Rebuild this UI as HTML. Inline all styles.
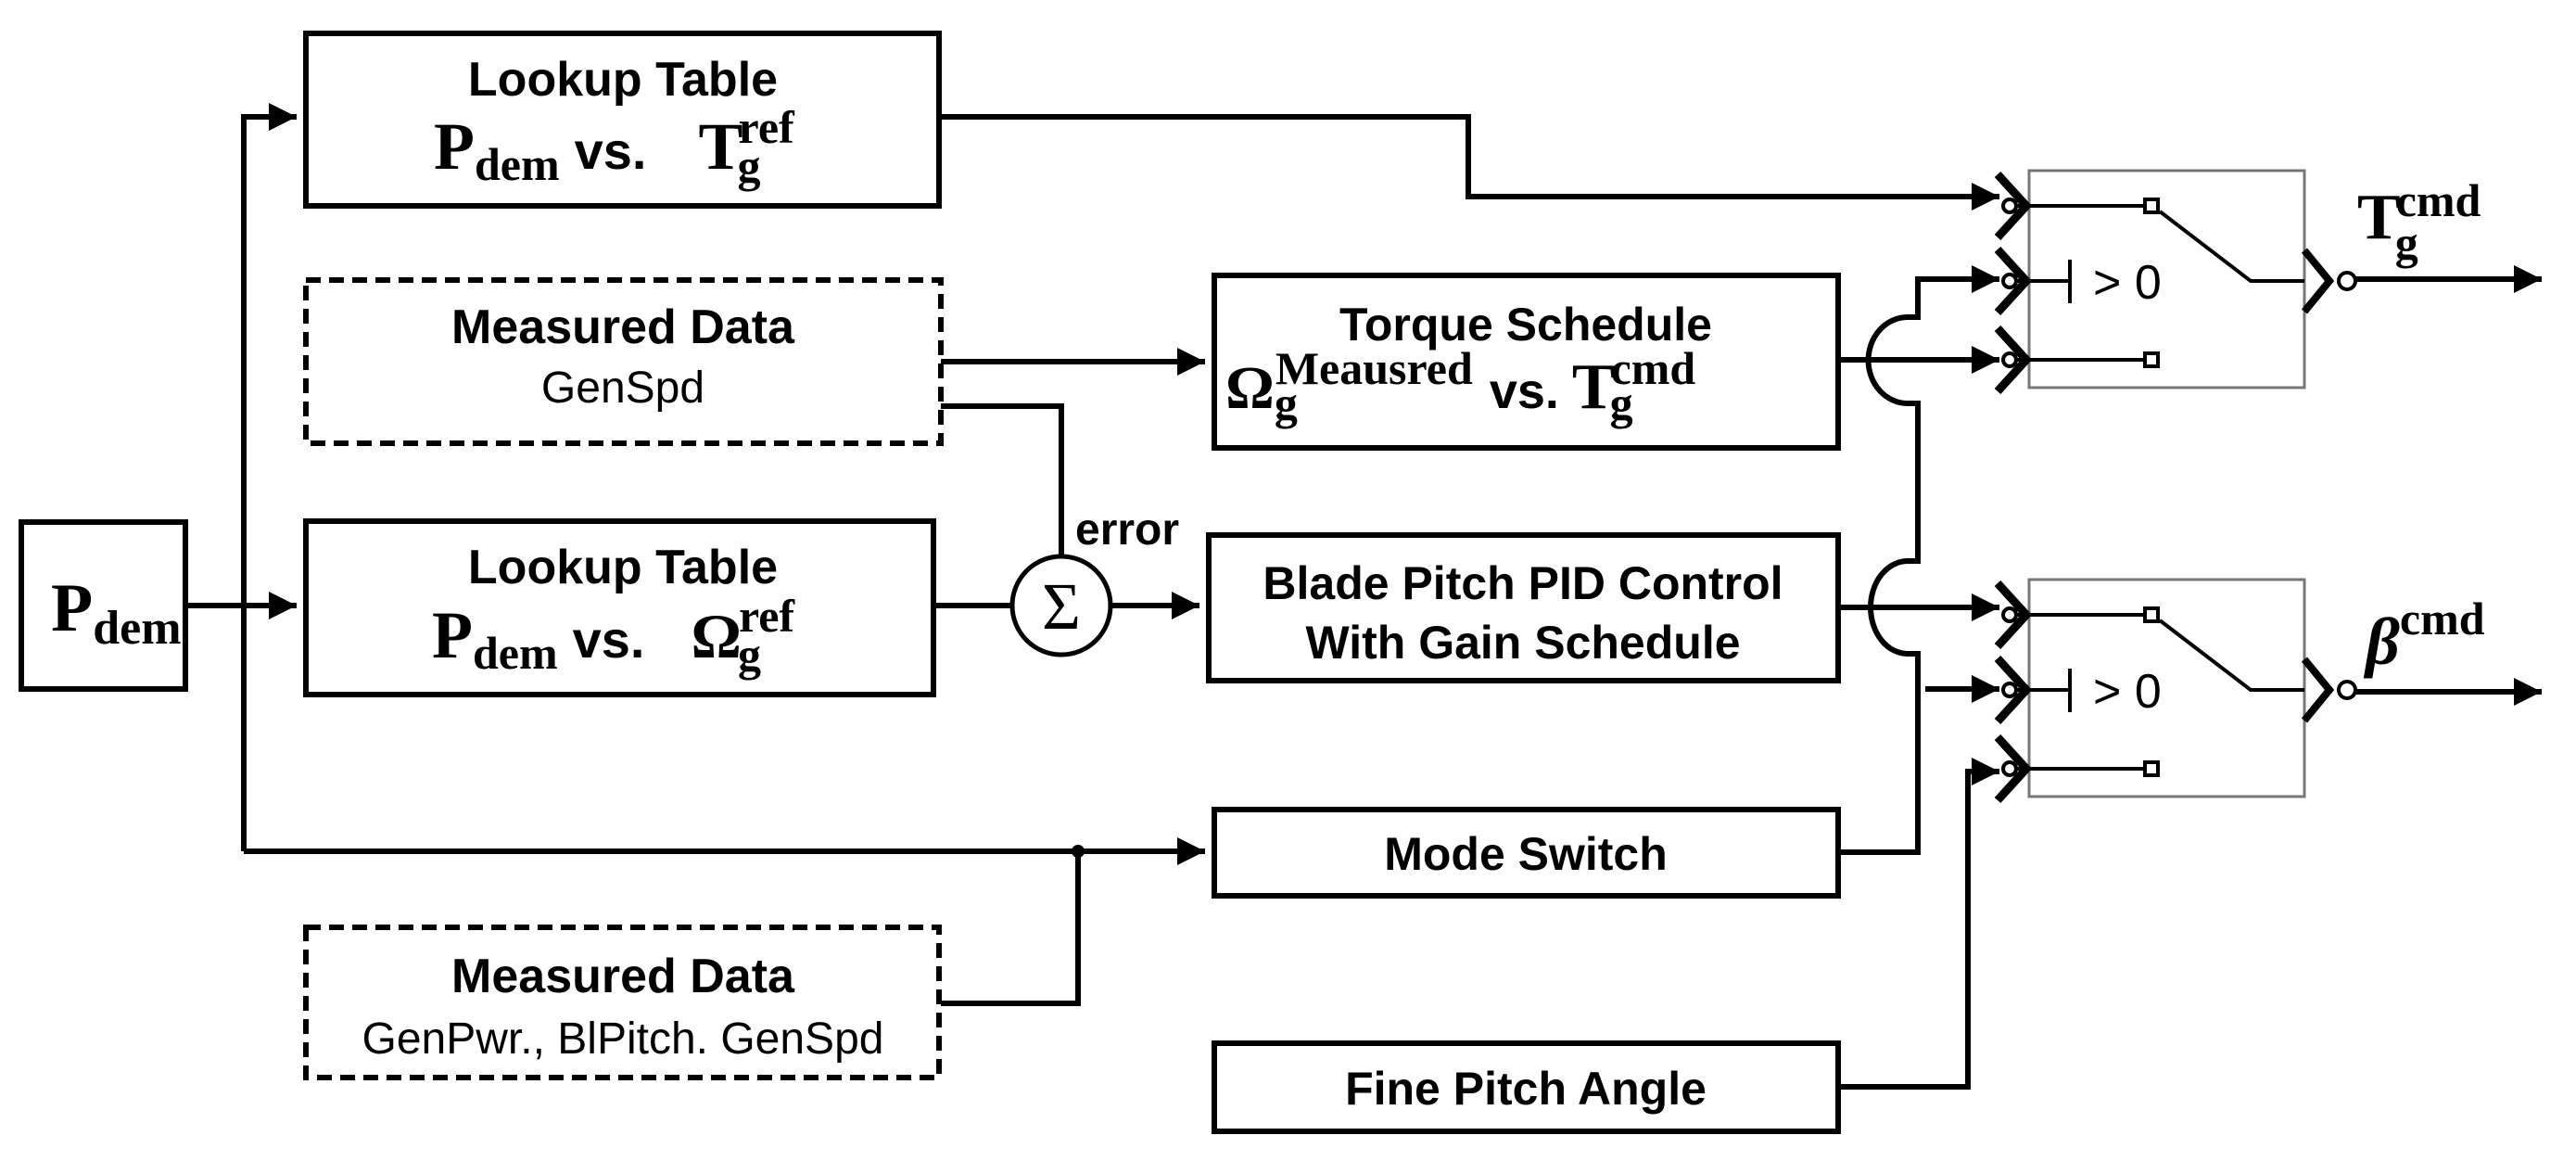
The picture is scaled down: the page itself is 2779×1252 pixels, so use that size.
<!DOCTYPE html>
<html><head><meta charset="utf-8"><style>
html,body{margin:0;padding:0;background:#fff;}
svg{display:block;}
.b{font-family:"Liberation Sans",sans-serif;font-weight:bold;fill:#000;}
.n{font-family:"Liberation Sans",sans-serif;fill:#000;}
.s{font-family:"Liberation Serif",serif;font-weight:bold;fill:#000;}
</style></head><body>
<svg width="2779" height="1252" viewBox="0 0 2779 1252" xmlns="http://www.w3.org/2000/svg">
<defs>
<marker id="a" viewBox="0 0 10 10" refX="10" refY="5" markerWidth="5" markerHeight="5" orient="auto" markerUnits="strokeWidth"><path d="M0,0L10,5L0,10z" fill="#000"/></marker>
</defs>
<g fill="none" stroke="#000" stroke-width="6">
<rect x="23" y="563" width="177" height="180"/>
<rect x="330" y="36" width="683" height="186"/>
<rect x="330" y="562" width="677" height="187"/>
<rect x="1310" y="297" width="673" height="186"/>
<rect x="1304" y="577" width="679" height="157"/>
<rect x="1310" y="873" width="673" height="93"/>
<rect x="1310" y="1125" width="673" height="95"/>
<g stroke-dasharray="16,9">
<rect x="330" y="302" width="685" height="176"/>
<rect x="330" y="1000" width="683" height="162"/>
</g>
<path d="M200,653H320" marker-end="url(#a)"/>
<path d="M263,918V126H320" marker-end="url(#a)"/>
<path d="M263,918H1300" marker-end="url(#a)"/>
<path d="M1015,1082H1163V918"/>
<path d="M1015,390H1300" marker-end="url(#a)"/>
<path d="M1015,438H1145V600"/>
<path d="M1007,653H1092"/>
<path d="M1198,653H1294" marker-end="url(#a)"/>
<path d="M1013,126H1584V212H2157" marker-end="url(#a)"/>
<path d="M1983,388H2157" marker-end="url(#a)"/>
<path d="M1983,655H2157" marker-end="url(#a)"/>
<path d="M1983,919H2069V705H2058A40,50 0 0 1 2058,605H2069V435H2058A42,46 0 0 1 2058,342H2069V301H2157" marker-end="url(#a)"/>
<path d="M2077,743H2157" marker-end="url(#a)"/>
<path d="M1983,1172H2123V832H2157" marker-end="url(#a)"/>
<path d="M2541,301H2742" marker-end="url(#a)"/>
<path d="M2541,746H2742" marker-end="url(#a)"/>
</g>
<circle cx="1145" cy="653" r="53" fill="#fff" stroke="#000" stroke-width="5"/>
<text x="1145" y="678" text-anchor="middle" font-family="Liberation Serif,serif" font-size="72" fill="#000">Σ</text>
<circle cx="1163" cy="918" r="7" fill="#000"/>

<g id="sw1">
<rect x="2189" y="184" width="297" height="234" fill="#fff" stroke="#777" stroke-width="3"/>
<g stroke="#000" fill="none">
<path d="M2176,222H2320M2176,303H2233M2176,388H2320" stroke-width="4"/>
<path d="M2233,280V327" stroke-width="4"/>
<path d="M2330,228L2428,303H2486" stroke-width="4"/>
<rect x="2314" y="215" width="14" height="14" stroke-width="4" fill="#fff"/>
<rect x="2314" y="381" width="14" height="14" stroke-width="4" fill="#fff"/>
<path d="M2155,188L2186,222L2155,256M2155,269L2186,303L2155,337M2155,354L2186,388L2155,422" stroke-width="9"/>
<path d="M2486,270L2513,303L2486,336" stroke-width="8"/>
</g>
<g fill="#fff" stroke="#000" stroke-width="4">
<circle cx="2168" cy="222" r="7"/><circle cx="2168" cy="303" r="7"/><circle cx="2168" cy="388" r="7"/>
<circle cx="2532" cy="303" r="9"/>
</g>
<text x="2258" y="322" class="n" font-size="52">&gt; 0</text>
</g>
<use href="#sw1" transform="translate(0,441)"/>

<text class="s" x="55" y="680" font-size="74">P<tspan font-size="52" dy="14">dem</tspan></text>
<text class="b" x="672" y="103" text-anchor="middle" font-size="52">Lookup Table</text>
<text x="468" y="182"><tspan class="s" font-size="72">P</tspan><tspan class="s" font-size="50" dy="12">dem</tspan><tspan class="b" font-size="56" dy="-12" dx="16">vs.</tspan><tspan class="s" font-size="72" dx="56">T</tspan><tspan class="s" font-size="50" dy="14" dx="-6">g</tspan><tspan class="s" font-size="50" dy="-42" dx="-24">ref</tspan></text>
<text class="b" x="672" y="629" text-anchor="middle" font-size="52">Lookup Table</text>
<text x="466" y="709"><tspan class="s" font-size="72">P</tspan><tspan class="s" font-size="50" dy="12">dem</tspan><tspan class="b" font-size="56" dy="-12" dx="16">vs.</tspan><tspan class="s" font-size="68" dx="50">Ω</tspan><tspan class="s" font-size="50" dy="14" dx="-4">g</tspan><tspan class="s" font-size="50" dy="-42" dx="-24">ref</tspan></text>
<text class="b" x="672" y="370" text-anchor="middle" font-size="52">Measured Data</text>
<text class="n" x="672" y="434" text-anchor="middle" font-size="48">GenSpd</text>
<text class="b" x="672" y="1070" text-anchor="middle" font-size="52">Measured Data</text>
<text class="n" x="672" y="1136" text-anchor="middle" font-size="48">GenPwr., BlPitch. GenSpd</text>
<text class="b" x="1160" y="587" font-size="48">error</text>
<text class="b" x="1646" y="367" text-anchor="middle" font-size="50">Torque Schedule</text>
<text x="1322" y="440"><tspan class="s" font-size="66">Ω</tspan><tspan class="s" font-size="50" dy="12">g</tspan><tspan class="s" font-size="50" dy="-38" dx="-24">Meausred</tspan><tspan class="b" font-size="54" dy="26" dx="18">vs.</tspan><tspan class="s" font-size="70" dx="14">T</tspan><tspan class="s" font-size="50" dy="12" dx="-6">g</tspan><tspan class="s" font-size="50" dy="-38" dx="-24">cmd</tspan></text>
<text class="b" x="1643" y="646" text-anchor="middle" font-size="50">Blade Pitch PID Control</text>
<text class="b" x="1643" y="710" text-anchor="middle" font-size="50">With Gain Schedule</text>
<text class="b" x="1646" y="938" text-anchor="middle" font-size="50">Mode Switch</text>
<text class="b" x="1646" y="1191" text-anchor="middle" font-size="50">Fine Pitch Angle</text>
<text x="2543" y="257"><tspan class="s" font-size="70">T</tspan><tspan class="s" font-size="50" dy="22" dx="-6">g</tspan><tspan class="s" font-size="50" dy="-46" dx="-24">cmd</tspan></text>
<text x="2552" y="716"><tspan class="s" font-size="72" font-style="italic">β</tspan><tspan class="s" font-size="50" dy="-32">cmd</tspan></text>
</svg>
</body></html>
